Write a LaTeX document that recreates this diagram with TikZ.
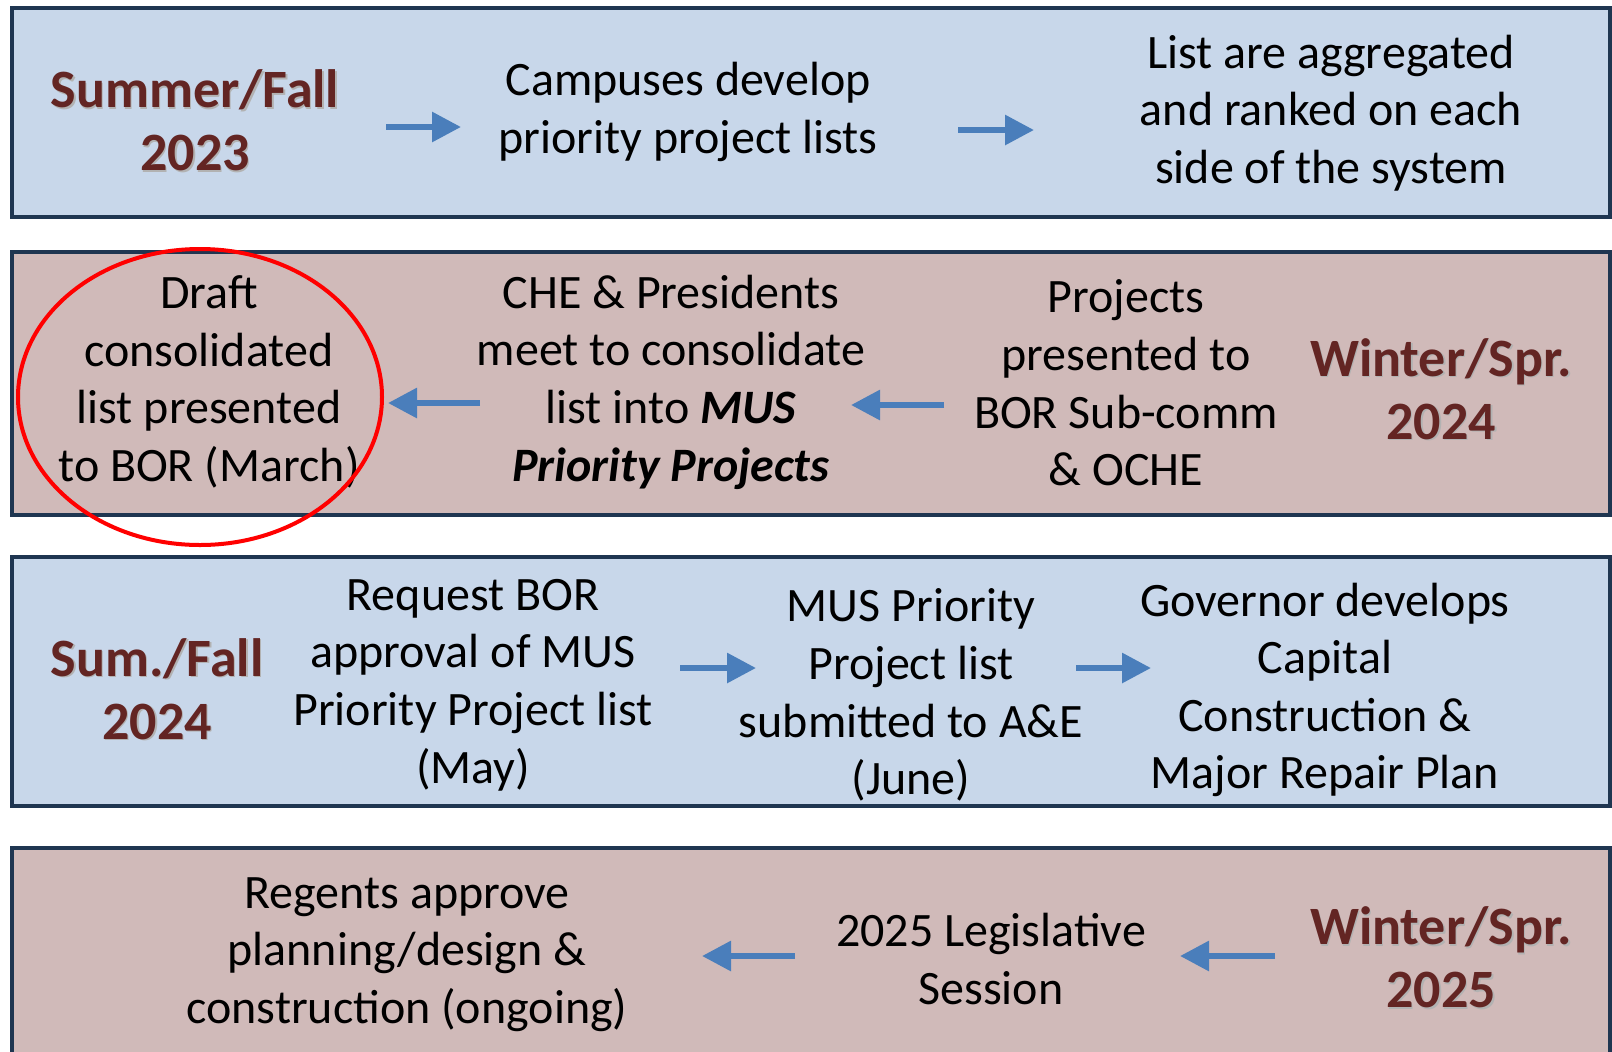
\documentclass[tikz,border=0pt]{standalone}
\usepackage{xcolor}
\usepackage{fontspec}
\setmainfont{Carlito}
\usetikzlibrary{arrows.meta}

\definecolor{bandblue}{HTML}{C8D7EA}
\definecolor{bandrose}{HTML}{D0BAB9}
\definecolor{bandline}{HTML}{1F3651}
\definecolor{seasonred}{HTML}{632523}
\definecolor{flowblue}{HTML}{4A7EBB}
\definecolor{ringred}{HTML}{FF0000}

\tikzset{
  band/.style={draw=bandline, line width=2.2pt},
  stepbox/.style={align=center, inner sep=0pt, font=\fontsize{24}{28.8}\selectfont},
  season/.style={align=center, inner sep=0pt, text=seasonred, font=\bfseries\fontsize{27}{31.5}\selectfont},
  seasonshadow/.style={season, text=black!30, xshift=0.8pt, yshift=-0.8pt},
  flow/.style={-{Triangle[length=14.5pt,width=14.5pt]}, draw=flowblue, line width=3pt},
}
\newcommand{\seasonlabel}[3]{%
  \node[seasonshadow] (#1s) at (#2) {#3};
  \node[season] (#1) at (#2) {#3};}

\begin{document}
\begin{tikzpicture}[x=0.5pt, y=-0.5pt]
\clip (0,0) rectangle (1612,1051);

% Bands
\draw[band, fill=bandblue] (12,8) rectangle (1610,217);
\draw[band, fill=bandrose] (12,252) rectangle (1610,515);
\draw[band, fill=bandblue] (12,557) rectangle (1610,806);
\draw[band, fill=bandrose] (12,848) rectangle (1610,1090);

% Row 1
\seasonlabel{s23}{195,120.5}{Summer/Fall\\2023}
\node[stepbox] (campus) at (688,112) {Campuses develop\\priority project lists};
\node[stepbox] (aggr) at (1331,113) {List are aggregated\\and ranked on each\\side of the system};

% Row 2
\node[stepbox] (draft) at (209,382) {Draft\\consolidated\\list presented\\to BOR (March)};
\node[stepbox] (che) at (671,382) {CHE \& Presidents\\meet to consolidate\\list into \textbf{\textit{MUS}}\\\textbf{\textit{Priority Projects}}};
\node[stepbox] (sub) at (1126,383) {Projects\\presented to\\BOR Sub-comm\\\& OCHE};
\seasonlabel{w24}{1441,389}{Winter/Spr.\\2024}

% Row 3
\seasonlabel{f24}{157,689}{Sum./Fall\\2024}
\node[stepbox] (req) at (473,685) {Request BOR\\approval of MUS\\Priority Project list\\(May)};
\node[stepbox] (ae) at (911,695) {MUS Priority\\Project list\\submitted to A\&E\\(June)};
\node[stepbox] (gov) at (1325,690) {Governor develops\\Capital\\Construction \&\\Major Repair Plan};

% Row 4
\node[stepbox] (regents) at (407,954.5) {Regents approve\\planning/design \&\\construction (ongoing)};
\node[stepbox] (leg) at (991,959) {2025 Legislative\\Session};
\seasonlabel{w25}{1441,957.5}{Winter/Spr.\\2025}

% Arrows
\coordinate (a1s) at (386,127);  \coordinate (a1e) at (461,127);
\coordinate (a2s) at (958,130);  \coordinate (a2e) at (1034,130);
\coordinate (a3s) at (480,403);  \coordinate (a3e) at (388,403);
\coordinate (a4s) at (944,405);  \coordinate (a4e) at (851,405);
\coordinate (a5s) at (680,668);  \coordinate (a5e) at (756,668);
\coordinate (a6s) at (1076,668); \coordinate (a6e) at (1151,668);
\coordinate (a7s) at (795,956);  \coordinate (a7e) at (702,956);
\coordinate (a8s) at (1275,956); \coordinate (a8e) at (1180,956);
\foreach \i in {1,...,8}
  \draw[flow] (a\i s) -- (a\i e);

% Highlight
\draw[ringred, line width=2pt] (draft.center) ++(-4.5pt,-7.5pt) ellipse [x radius=91pt, y radius=74pt];
\end{tikzpicture}
\end{document}
